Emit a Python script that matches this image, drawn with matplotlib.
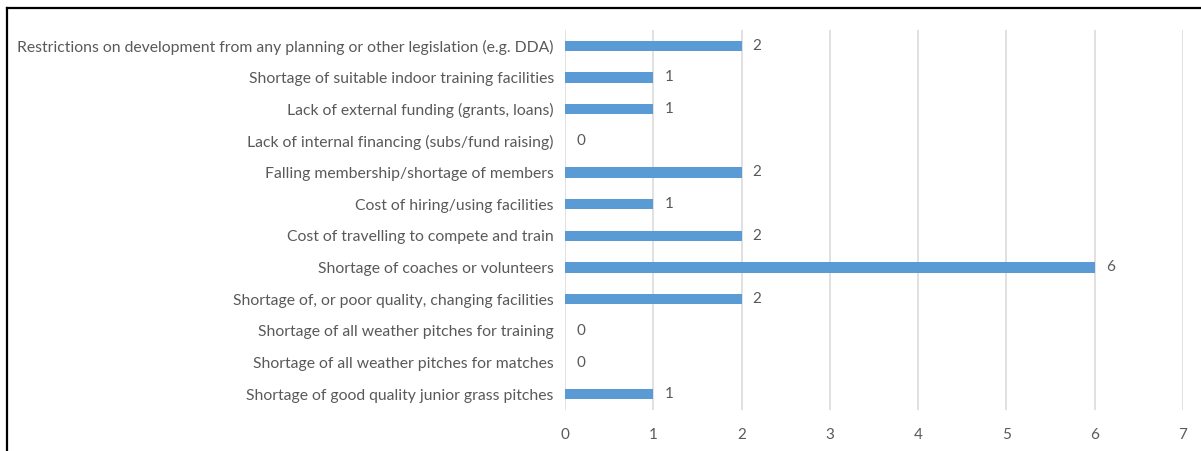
import matplotlib.pyplot as plt
from matplotlib.lines import Line2D

categories = [
    "Shortage of good quality junior grass pitches",
    "Shortage of all weather pitches for matches",
    "Shortage of all weather pitches for training",
    "Shortage of, or poor quality, changing facilities",
    "Shortage of coaches or volunteers",
    "Cost of travelling to compete and train",
    "Cost of hiring/using facilities",
    "Falling membership/shortage of members",
    "Lack of internal financing (subs/fund raising)",
    "Lack of external funding (grants, loans)",
    "Shortage of suitable indoor training facilities",
    "Restrictions on development from any planning or other legislation (e.g. DDA)",
]
values = [1, 0, 0, 2, 6, 2, 1, 2, 0, 1, 1, 2]
xticks = [0, 1, 2, 3, 4, 5, 6, 7]

plt.rcParams['font.family'] = ['Lato', 'DejaVu Sans']
txt = '#595959'

fig = plt.figure(figsize=(12.01, 4.51), dpi=100)
ax = fig.add_axes([0.4704, 0.0909, 0.5146, 0.8426])

pos = list(range(len(categories)))
ax.barh(pos, values, height=0.33, color='#5b9bd5', zorder=3)
for p, v in zip(pos, values):
    ax.annotate(str(v), (v, p), xytext=(8, 0), textcoords='offset points',
                va='center', ha='left', fontsize=11, color=txt)

ax.set_xlim(0, 7)
ax.set_ylim(-0.5, len(categories) - 0.5)
ax.set_xticks(xticks)
ax.set_yticks(pos)
ax.set_yticklabels(categories)
ax.grid(axis='x', color='#dedede', linewidth=1.3, zorder=0)
for s in ax.spines.values():
    s.set_visible(False)
ax.tick_params(axis='both', length=0, labelsize=11, labelcolor=txt)
ax.tick_params(axis='y', labelsize=11.3, pad=8)
ax.tick_params(axis='x', pad=13)

# outer frame (top and left edge of the pasted figure)
fig.add_artist(Line2D([7 / 1201, 1], [1 - 7.5 / 451, 1 - 7.5 / 451], color='black', linewidth=1.6))
fig.add_artist(Line2D([7 / 1201, 7 / 1201], [0, 1 - 7.5 / 451], color='black', linewidth=1.6))

fig.savefig('out.png', dpi=100)
